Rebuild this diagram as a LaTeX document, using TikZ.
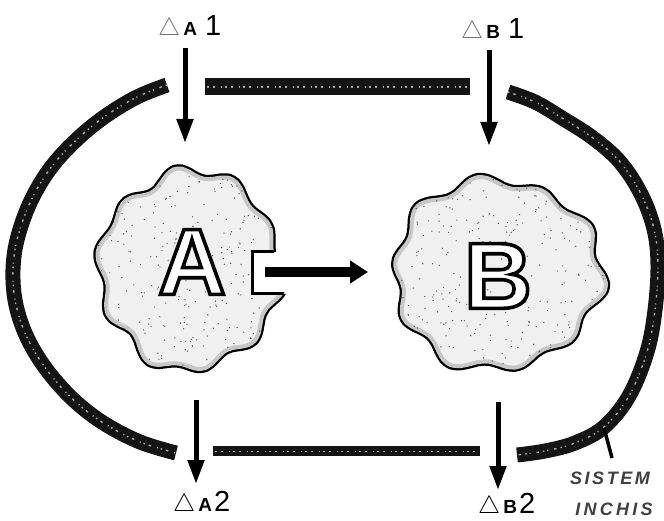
\documentclass[tikz,border=0pt]{standalone}
\usepackage{fontspec}
\setmainfont{Liberation Sans}
\usetikzlibrary{arrows.meta,calc}
\newcommand\mytri[1][black]{{\color{#1}\fontsize{23}{23}\selectfont$\triangle$}}
\newcommand\mylett[1]{{\fontsize{19}{19}\selectfont\bfseries #1}}
\newcommand\mydig[1]{{\fontsize{29}{29}\selectfont #1}}
\newcommand\outlined[1]{{\bfseries\color{white}\special{pdf:literal direct 2 Tr 3.6 w 0 G}#1\special{pdf:literal direct 0 Tr 1 w}}}
\begin{document}
\begin{tikzpicture}[x=1pt,y=-1pt,
  band/.style={line width=15pt, black!92, line cap=butt},
  speck/.style={black!35, line width=1.4pt, dash pattern=on 1.5pt off 4pt on 2.5pt off 6pt on 1pt off 3pt},
  flow/.style={line width=5pt, -{Triangle[width=16pt,length=24pt]}},
  blobline/.style={line width=4.5pt, draw=black, fill=black!6},
  lbl/.style={anchor=base west, inner sep=0pt},
  bigletter/.style={font=\fontsize{94}{94}\selectfont, inner sep=0pt},
  systext/.style={font=\bfseries\itshape\fontsize{18}{18}\selectfont, text=black!75, inner sep=0pt},
]
\useasboundingbox (0,0) rectangle (664,521);

% ---- closed-system boundary ----
\def\leftarc{plot[smooth, tension=0.6] coordinates {(167,85) (135,98) (100,120) (70,146) (47,173) (29,205) (17,240) (13,270) (15,300) (23,328) (36,354) (54,379) (77,403) (105,424) (140,442) (176,453)}}
\def\rightarc{plot[smooth, tension=0.6] coordinates {(508,92) (535,102) (562,118) (593,138) (620,162) (641,194) (654,229) (658,265) (655,310) (647,352) (629,396) (604,427) (575,443) (545,451) (517,455)}}
\draw[band] \leftarc;
\draw[speck] \leftarc;
\draw[band] \rightarc;
\draw[speck] \rightarc;
\draw[band, line width=17pt] (205,87) -- (470,87);
\draw[speck] (207,87) -- (468,87);
\draw[band, line width=10pt] (213,451) -- (480,451);
\draw[speck, line width=1pt] (215,451) -- (478,451);

% ---- blob A ----
\def\blobA{plot[smooth cycle, samples=72, domain=0:355] ({190+90*(1+0.05*sin(10*\x)+0.025*sin(4*\x+40)+0.015*sin(7*\x+70))*cos(\x)}, {270+98*(1+0.05*sin(10*\x)+0.025*sin(4*\x+40)+0.015*sin(7*\x+70))*sin(\x)})}
\begin{scope}
  \clip (-5,-5) rectangle (670,252) (-5,294) rectangle (670,530) (-5,252) rectangle (252,294);
  \draw[blobline] \blobA;
  \begin{scope}
    \clip \blobA;
    \draw[black!22, line width=8pt] \blobA;
    \pgfmathsetseed{3}
    \foreach \i in {1,...,320} {\fill[black!65] ({190+rand*95},{270+rand*105}) circle (0.7);}
  \end{scope}
\end{scope}
\begin{scope}
  \clip \blobA;
  \draw[line width=3pt] (320,252) -- (252,252) -- (252,294) -- (320,294);
\end{scope}

% ---- blob B ----
\def\blobB{plot[smooth cycle, samples=72, domain=0:355] ({497+103*(1+0.05*sin(10*\x+15)+0.025*sin(3*\x+100)+0.015*sin(7*\x+20))*cos(\x)}, {274+94*(1+0.05*sin(10*\x+15)+0.025*sin(3*\x+100)+0.015*sin(7*\x+20))*sin(\x)})}
\draw[blobline] \blobB;
\begin{scope}
  \clip \blobB;
  \draw[black!22, line width=8pt] \blobB;
  \pgfmathsetseed{11}
  \foreach \i in {1,...,340} {\fill[black!65] ({497+rand*110},{274+rand*100}) circle (0.7);}
\end{scope}

% ---- outlined letters ----
\node[bigletter] (A) at (192,262) {\outlined{A}};
\node[bigletter] (B) at (498,276) {\outlined{B}};

% ---- A -> B ----
\coordinate (aout) at (265,272);
\coordinate (bin) at (368,272);
\draw[line width=10pt, -{Triangle[width=22pt,length=18pt]}] (aout) -- (bin);

% ---- labels ----
\node[lbl] (la1) at (158,36) {\mytri[black!55]\hspace{3pt}\mylett{A}\hspace{8pt}\mydig{1}};
\node[lbl] (lb1) at (461,39) {\mytri[black!55]\hspace{3pt}\mylett{B}\hspace{8pt}\mydig{1}};
\node[lbl] (la2) at (173,511) {\mytri\hspace{3pt}\mylett{A}\hspace{2pt}\mydig{2}};
\node[lbl] (lb2) at (478,513) {\mytri\hspace{3pt}\mylett{B}\hspace{2pt}\mydig{2}};

% ---- flow arrows ----
\coordinate (a1s) at (185,48);  \coordinate (a1e) at (185,143);
\coordinate (b1s) at (489,50);  \coordinate (b1e) at (489,146);
\coordinate (a2s) at (196,400); \coordinate (a2e) at (196,484);
\coordinate (b2s) at (498,402); \coordinate (b2e) at (498,490);
\draw[flow] (a1s) -- (a1e);
\draw[flow] (b1s) -- (b1e);
\draw[flow] (a2s) -- (a2e);
\draw[flow] (b2s) -- (b2e);

% ---- system label ----
\node[systext] (sys1) at (610,478) {\addfontfeatures{LetterSpace=14}SISTEM};
\node[systext] (sys2) at (614,509) {\addfontfeatures{LetterSpace=18}INCHIS};
\coordinate (ld1) at (604,428);
\coordinate (ld2) at (612,458);
\draw[line width=3.5pt] (ld1) -- (ld2);
\end{tikzpicture}
\end{document}
